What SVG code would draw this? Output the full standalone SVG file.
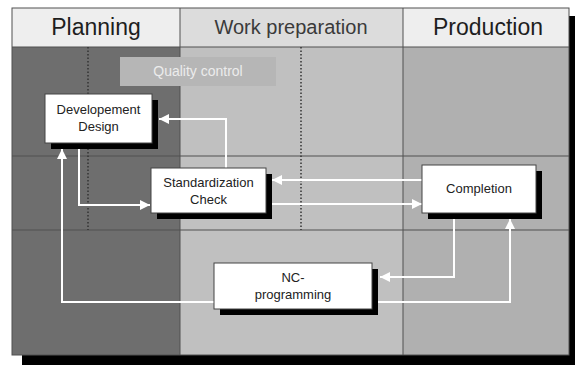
<svg xmlns="http://www.w3.org/2000/svg" width="575" height="365" viewBox="0 0 575 365">
<style>
.hdr{font-family:"Liberation Sans",Arial,sans-serif;font-size:23px;fill:#1e1e1e;text-anchor:middle}
.lbl{font-family:"Liberation Sans",Arial,sans-serif;font-size:13px;fill:#222;text-anchor:middle}
.grid{stroke:#505050;stroke-width:1;fill:none}
.dot{stroke:#333;stroke-width:1.5;stroke-dasharray:1.5 2;fill:none}
.box{fill:#fff;stroke:#444;stroke-width:1}
.shd{fill:#000}
.con{stroke:#fff;stroke-width:2;fill:none}
</style>
<defs>
<marker id="ah" viewBox="0 0 10 10" refX="10" refY="5" markerWidth="5" markerHeight="5" orient="auto" markerUnits="strokeWidth">
<path d="M0,0 L10,5 L0,10 z" fill="#fff"/>
</marker>
</defs>
<rect width="575" height="365" fill="#fff"/>
<g id="frame">
<rect x="22" y="16" width="556" height="349" fill="#000"/>
<rect x="12" y="47" width="168" height="308" fill="#6e6e6e"/>
<rect x="180" y="47" width="223" height="308" fill="#c0c0c0"/>
<rect x="403" y="47" width="166" height="308" fill="#b0b0b0"/>
<rect x="12" y="8" width="168" height="39" fill="#eeeeee"/>
<rect x="180" y="8" width="223" height="39" fill="#dcdcdc"/>
<rect x="403" y="8" width="166" height="39" fill="#eeeeee"/>
<rect x="12" y="8" width="557" height="347" class="grid"/>
<line x1="12" y1="47" x2="569" y2="47" class="grid"/>
<line x1="12" y1="156" x2="569" y2="156" class="grid"/>
<line x1="12" y1="230" x2="569" y2="230" class="grid"/>
<line x1="180" y1="8" x2="180" y2="355" class="grid"/>
<line x1="403" y1="8" x2="403" y2="355" class="grid"/>
<line x1="88" y1="47" x2="88" y2="230" class="dot"/>
<line x1="301" y1="47" x2="301" y2="230" class="dot"/>
<text x="96" y="35" class="hdr">Planning</text>
<text x="291" y="34" class="hdr" style="font-size:20px;fill:#3a3a3a">Work preparation</text>
<text x="488" y="35" class="hdr">Production</text>
</g>
<g id="quality">
<rect x="120" y="57" width="156" height="29" fill="#b6b6b6"/>
<text x="198" y="76" class="lbl" style="fill:#ececec;font-size:14px">Quality control</text>
</g>
<g id="connectors">
<polyline points="226,168 226,119 159,119" class="con" marker-end="url(#ah)"/>
<polyline points="79,143 79,205 150,205" class="con" marker-end="url(#ah)"/>
<polyline points="422,180 272,180" class="con" marker-end="url(#ah)"/>
<polyline points="266,204 422,204" class="con" marker-end="url(#ah)"/>
<polyline points="454,219 454,277 380,277" class="con" marker-end="url(#ah)"/>
<polyline points="378,302 510,302 510,219" class="con" marker-end="url(#ah)"/>
<polyline points="214,302 62,302 62,149" class="con" marker-end="url(#ah)"/>
</g>
<g id="dev">
<rect x="51" y="100" width="107" height="49" class="shd"/>
<rect x="45" y="94" width="107" height="49" class="box"/>
<text x="98.5" y="114" class="lbl">Developement</text>
<text x="98.5" y="131" class="lbl">Design</text>
</g>
<g id="std">
<rect x="157" y="174" width="115" height="45" class="shd"/>
<rect x="151" y="168" width="115" height="45" class="box"/>
<text x="208.5" y="187" class="lbl">Standardization</text>
<text x="208.5" y="204" class="lbl">Check</text>
</g>
<g id="completion">
<rect x="428" y="171" width="114" height="48" class="shd"/>
<rect x="422" y="165" width="114" height="48" class="box"/>
<text x="479" y="193" class="lbl">Completion</text>
</g>
<g id="nc">
<rect x="220" y="269" width="158" height="46" class="shd"/>
<rect x="214" y="263" width="158" height="46" class="box"/>
<text x="293" y="282" class="lbl">NC-</text>
<text x="293" y="299" class="lbl">programming</text>
</g>
</svg>
